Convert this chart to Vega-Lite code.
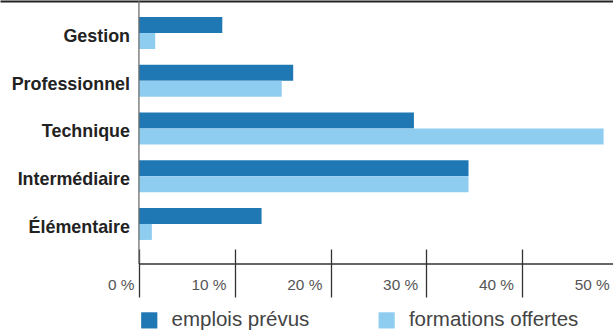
{
  "$schema": "https://vega.github.io/schema/vega-lite/v6.json",
  "width": 618,
  "height": 263,
  "autosize": {"type": "none"},
  "padding": {"left": 0, "top": 1, "right": 0, "bottom": 67},
  "background": "white",
  "config": {"view": {"stroke": null}},
  "data": {
    "values": [
      {"categorie": "Gestion", "serie": "emplois prévus", "valeur": 8.7},
      {"categorie": "Gestion", "serie": "formations offertes", "valeur": 1.7},
      {"categorie": "Professionnel", "serie": "emplois prévus", "valeur": 16.1},
      {"categorie": "Professionnel", "serie": "formations offertes", "valeur": 14.9},
      {"categorie": "Technique", "serie": "emplois prévus", "valeur": 28.7},
      {"categorie": "Technique", "serie": "formations offertes", "valeur": 48.5},
      {"categorie": "Intermédiaire", "serie": "emplois prévus", "valeur": 34.4},
      {"categorie": "Intermédiaire", "serie": "formations offertes", "valeur": 34.4},
      {"categorie": "Élémentaire", "serie": "emplois prévus", "valeur": 12.8},
      {"categorie": "Élémentaire", "serie": "formations offertes", "valeur": 1.35}
    ]
  },
  "layer": [
    {
      "mark": {"type": "bar"},
      "encoding": {
        "y": {
          "field": "categorie",
          "type": "nominal",
          "sort": ["Gestion", "Professionnel", "Technique", "Intermédiaire", "Élémentaire"],
          "scale": {"paddingInner": 0.33, "paddingOuter": 0.42, "align": 0.4},
          "axis": {
            "title": null,
            "domain": false,
            "ticks": false,
            "tickSize": 0,
            "labelPadding": -129.5,
            "labelAlign": "right",
            "labelBaseline": "alphabetic",
            "labelOffset": 9,
            "labelFont": "Liberation Sans",
            "labelFontWeight": "bold",
            "labelFontSize": 17.9,
            "labelColor": "#222222"
          }
        },
        "yOffset": {
          "field": "serie",
          "type": "nominal",
          "sort": ["emplois prévus", "formations offertes"],
          "scale": {"paddingInner": 0, "paddingOuter": 0}
        },
        "x": {
          "field": "valeur",
          "type": "quantitative",
          "scale": {"domain": [-14.5, 50], "nice": false, "zero": false},
          "axis": {
            "orient": "bottom",
            "title": null,
            "grid": false,
            "domain": false,
            "offset": -15,
            "values": [0, 10, 20, 30, 40, 50],
            "tickSize": 48,
            "tickColor": "#333333",
            "tickWidth": 1.3,
            "labelExpr": "datum.value + ' %'",
            "labelFont": "Liberation Sans",
            "labelFontSize": 15.4,
            "labelColor": "#555555",
            "labelAlign": "right",
            "labelBaseline": "alphabetic",
            "labelPadding": -7.7,
            "labelOffset": {"condition": {"test": "datum.value === 0", "value": -5}, "value": -8.7},
            "labelFlush": false,
            "labelOverlap": false,
            "labelBound": false
          }
        },
        "color": {
          "field": "serie",
          "type": "nominal",
          "scale": {"domain": ["emplois prévus", "formations offertes"], "range": ["#1f77b4", "#8fcdf0"]},
          "legend": {
            "title": null,
            "orient": "none",
            "direction": "horizontal",
            "legendX": 139,
            "legendY": 309,
            "padding": 0,
            "symbolType": "square",
            "symbolSize": 262,
            "symbolStrokeWidth": 0,
            "symbolOpacity": 1,
            "labelFont": "Liberation Sans",
            "labelFontSize": 20.5,
            "labelColor": "#444444",
            "labelOffset": 12,
            "labelLimit": 300,
            "columnPadding": 66.4
          }
        }
      }
    },
    {
      "data": {"values": [{}]},
      "mark": {"type": "rule", "color": "#6d6d6d", "strokeWidth": 1.3},
      "encoding": {
        "x": {
          "datum": 0,
          "type": "quantitative",
          "axis": {
            "orient": "top",
            "title": null,
            "grid": false,
            "ticks": false,
            "labels": false,
            "domain": true,
            "domainColor": "#222222",
            "domainWidth": 2
          }
        }
      }
    },
    {
      "data": {"values": [{}]},
      "mark": {"type": "rule", "color": "#333333", "strokeWidth": 1.3},
      "encoding": {
        "x": {"datum": 0, "type": "quantitative", "axis": null},
        "x2": {"datum": 50},
        "y": {"value": "height"}
      }
    }
  ],
  "resolve": {"axis": {"x": "independent"}}
}
